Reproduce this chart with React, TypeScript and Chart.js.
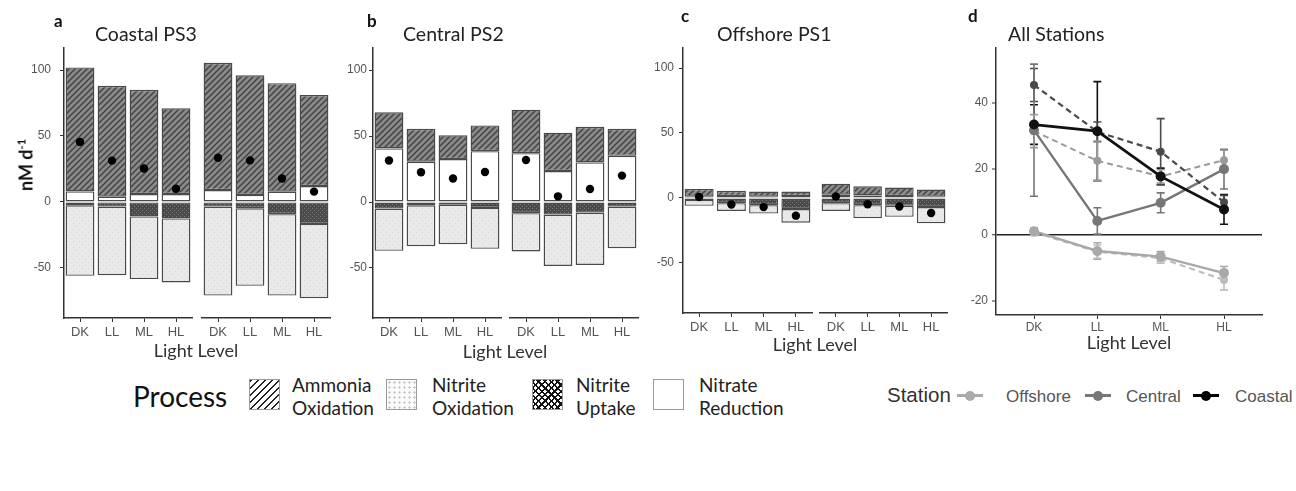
import React, { useEffect, useRef } from 'react';
import { Chart, registerables } from 'chart.js';

Chart.register(...registerables);
Chart.defaults.font.family = "'Liberation Sans', Arial, sans-serif";

// ---------- data ----------
const LIGHT_LEVELS = ['DK', 'LL', 'ML', 'HL'];
const BAR_Y_TICKS = [-50, 0, 50, 100];
const LINE_Y_TICKS = [-20, 0, 20, 40];

// Panel a – Coastal PS3 (facet 1 / facet 2)
const COASTAL_F1_AO = [94, 84, 79, 65];
const COASTAL_F1_NR = [8, 4, 6, 6];
const COASTAL_F1_NU = [-2.5, -3.5, -11, -12.5];
const COASTAL_F1_NO = [-53.5, -52, -47.5, -48.5];
const COASTAL_F1_NET = [45.5, 31.3, 25.3, 10];
const COASTAL_F2_AO = [96.5, 90.7, 82.2, 69];
const COASTAL_F2_NR = [9, 5.3, 7.8, 12];
const COASTAL_F2_NU = [-3.5, -4.8, -9.3, -16.7];
const COASTAL_F2_NO = [-67.5, -58.8, -61.7, -56.3];
const COASTAL_F2_NET = [33.5, 31.5, 17.8, 7.8];

// Panel b – Central PS2
const CENTRAL_F1_AO = [27.4, 25, 18, 19.5];
const CENTRAL_F1_NR = [40.6, 30.5, 32.5, 38.5];
const CENTRAL_F1_NU = [-5, -2.5, -2, -4.5];
const CENTRAL_F1_NO = [-32, -31, -30, -31];
const CENTRAL_F1_NET = [31.5, 22.5, 17.8, 22.7];
const CENTRAL_F2_AO = [33, 29, 27, 20.5];
const CENTRAL_F2_NR = [37, 23.5, 30, 35];
const CENTRAL_F2_NU = [-8.5, -9.5, -8, -3.5];
const CENTRAL_F2_NO = [-29, -39, -39.7, -31.5];
const CENTRAL_F2_NET = [31.8, 4.3, 9.8, 20];

// Panel c – Offshore PS1
const OFFSHORE_F1_AO = [6, 4, 4, 3.5];
const OFFSHORE_F1_NR = [1, 1.5, 1, 1.5];
const OFFSHORE_F1_NU = [-1.5, -4, -5.5, -8.5];
const OFFSHORE_F1_NO = [-4.5, -6, -6.5, -10.5];
const OFFSHORE_F1_NET = [0.8, -5, -7, -13.6];
const OFFSHORE_F2_AO = [8.5, 7, 6.5, 5.5];
const OFFSHORE_F2_NR = [2.5, 2, 1.5, 1];
const OFFSHORE_F2_NU = [-4, -5.5, -6, -7];
const OFFSHORE_F2_NO = [-6, -10, -8.5, -12.5];
const OFFSHORE_F2_NET = [1.2, -4.8, -6.5, -11.5];

// Panel d – error bar half-widths
const OFFSHORE_F1_ERR = [1, 2, 1.5, 3];
const OFFSHORE_F2_ERR = [1, 2.5, 1.5, 2];
const CENTRAL_F1_ERR = [5, 6, 2, 3];
const CENTRAL_F2_ERR = [20, 4, 3, 6];
const COASTAL_F1_ERR = [5, 3, 10, 2];
const COASTAL_F2_ERR = [6, 15, 2.5, 4.5];

type Facet = { ao: number[]; nr: number[]; nu: number[]; no: number[]; net: number[] };

const COASTAL: Facet[] = [
  { ao: COASTAL_F1_AO, nr: COASTAL_F1_NR, nu: COASTAL_F1_NU, no: COASTAL_F1_NO, net: COASTAL_F1_NET },
  { ao: COASTAL_F2_AO, nr: COASTAL_F2_NR, nu: COASTAL_F2_NU, no: COASTAL_F2_NO, net: COASTAL_F2_NET },
];
const CENTRAL: Facet[] = [
  { ao: CENTRAL_F1_AO, nr: CENTRAL_F1_NR, nu: CENTRAL_F1_NU, no: CENTRAL_F1_NO, net: CENTRAL_F1_NET },
  { ao: CENTRAL_F2_AO, nr: CENTRAL_F2_NR, nu: CENTRAL_F2_NU, no: CENTRAL_F2_NO, net: CENTRAL_F2_NET },
];
const OFFSHORE: Facet[] = [
  { ao: OFFSHORE_F1_AO, nr: OFFSHORE_F1_NR, nu: OFFSHORE_F1_NU, no: OFFSHORE_F1_NO, net: OFFSHORE_F1_NET },
  { ao: OFFSHORE_F2_AO, nr: OFFSHORE_F2_NR, nu: OFFSHORE_F2_NU, no: OFFSHORE_F2_NO, net: OFFSHORE_F2_NET },
];

// ---------- patterns ----------
function makePatterns(ctx: CanvasRenderingContext2D) {
  const tile = (s: number, draw: (g: CanvasRenderingContext2D, s: number) => void) => {
    const c = document.createElement('canvas');
    c.width = s;
    c.height = s;
    const g = c.getContext('2d')!;
    draw(g, s);
    return ctx.createPattern(c, 'repeat')!;
  };
  const hatch = tile(6, (g, s) => {
    g.fillStyle = '#8a8a8a';
    g.fillRect(0, 0, s, s);
    g.strokeStyle = '#444444';
    g.lineWidth = 1.5;
    g.beginPath();
    g.moveTo(0, s); g.lineTo(s, 0);
    g.moveTo(-s, s); g.lineTo(s, -s);
    g.moveTo(0, 2 * s); g.lineTo(2 * s, 0);
    g.stroke();
  });
  const cross = tile(4, (g, s) => {
    g.fillStyle = '#4a4a4a';
    g.fillRect(0, 0, s, s);
    g.fillStyle = '#7c7c7c';
    g.fillRect(0, 0, 1, 1);
    g.fillRect(2, 2, 1, 1);
  });
  const dots = tile(6, (g, s) => {
    g.fillStyle = '#e9e9e9';
    g.fillRect(0, 0, s, s);
    g.fillStyle = '#d6d6d6';
    g.fillRect(1, 1, 1, 1);
    g.fillRect(4, 4, 1, 1);
  });
  return { hatch, cross, dots };
}

// ---------- process panel ----------
type PanelProps = {
  facets: Facet[];
  left: number; top: number; width: number; height: number;
  yWidth: number; yPad: number; padRight: number; padTop: number; xHeight: number;
  weights: number[]; min: number; max: number;
};

function ProcessPanel(p: PanelProps) {
  const ref = useRef<HTMLCanvasElement>(null);
  useEffect(() => {
    const canvas = ref.current!;
    const ctx = canvas.getContext('2d')!;
    const pats = makePatterns(ctx);
    const datasets: any[] = [];
    p.facets.forEach((f, i) => {
      const xAxisID = i === 0 ? 'x1' : 'x2';
      datasets.push({
        type: 'line', label: 'Net', data: f.net, xAxisID, yAxisID: 'y', stack: 'net',
        showLine: false, pointRadius: 4.2, pointHoverRadius: 4.2,
        pointBackgroundColor: '#000', pointBorderColor: '#000', pointBorderWidth: 0, order: -1,
      });
      const seg = (label: string, data: number[], bg: any) => ({
        type: 'bar', label, data, xAxisID, yAxisID: 'y', stack: 'proc', grouped: false,
        backgroundColor: bg, borderColor: '#4a4a4a', borderWidth: 1.4, borderSkipped: false,
        categoryPercentage: 1, barPercentage: 0.9,
      });
      datasets.push(seg('Nitrate Reduction', f.nr, '#ffffff'));
      datasets.push(seg('Ammonia Oxidation', f.ao, pats.hatch));
      datasets.push(seg('Nitrite Uptake', f.nu, pats.cross));
      datasets.push(seg('Nitrite Oxidation', f.no, pats.dots));
    });
    const catAxis = (w: number) => ({
      type: 'category', position: 'bottom', labels: LIGHT_LEVELS, stack: 'facet', stackWeight: w, offset: true,
      grid: { display: true, drawOnChartArea: false, drawTicks: true, tickLength: 4, color: '#333', offset: false },
      border: { display: true, color: '#333', width: 1.5 },
      ticks: { color: '#555', font: { size: 13 }, padding: 3, autoSkip: false, maxRotation: 0 },
      afterFit: (s: any) => { s.height = p.xHeight; },
    });
    const chart = new Chart(canvas, {
      type: 'bar',
      data: { labels: LIGHT_LEVELS, datasets },
      options: {
        animation: false, responsive: false, events: [],
        layout: { padding: { left: 0, right: p.padRight, top: p.padTop, bottom: 0 } },
        plugins: { legend: { display: false }, tooltip: { enabled: false }, title: { display: false } },
        scales: {
          y: {
            type: 'linear', position: 'left', min: p.min, max: p.max, stacked: true,
            afterBuildTicks: (s: any) => { s.ticks = BAR_Y_TICKS.map((v) => ({ value: v })); },
            afterFit: (s: any) => { s.width = p.yWidth; },
            grid: { display: true, drawOnChartArea: false, drawTicks: true, tickLength: 4, color: '#333' },
            border: { display: true, color: '#333', width: 1.5 },
            ticks: { color: '#555', font: { size: 12 }, padding: p.yPad },
          },
          x1: catAxis(p.weights[0]),
          xg: {
            type: 'category', position: 'bottom', labels: [''], stack: 'facet', stackWeight: p.weights[1],
            grid: { display: false }, border: { display: false }, ticks: { display: false },
            afterFit: (s: any) => { s.height = p.xHeight; },
          },
          x2: catAxis(p.weights[2]),
        } as any,
      },
    } as any);
    return () => chart.destroy();
  }, []);
  return (
    <canvas ref={ref} width={p.width} height={p.height}
      style={{ position: 'absolute', left: p.left, top: p.top, width: p.width, height: p.height }} />
  );
}

// ---------- all stations panel ----------
const errorBarPlugin = {
  id: 'errorBars',
  beforeDatasetsDraw(chart: any) {
    const { ctx } = chart;
    const yS = chart.scales.y;
    chart.data.datasets.forEach((ds: any, i: number) => {
      if (!ds.errors) return;
      const meta = chart.getDatasetMeta(i);
      ctx.save();
      ctx.strokeStyle = ds.borderColor;
      ctx.lineWidth = 1.6;
      ctx.setLineDash([]);
      meta.data.forEach((pt: any, j: number) => {
        const v = ds.data[j].y;
        const e = ds.errors[j];
        const x = pt.x;
        const y1 = yS.getPixelForValue(v + e);
        const y2 = yS.getPixelForValue(v - e);
        ctx.beginPath();
        ctx.moveTo(x, y1); ctx.lineTo(x, y2);
        ctx.moveTo(x - 4, y1); ctx.lineTo(x + 4, y1);
        ctx.moveTo(x - 4, y2); ctx.lineTo(x + 4, y2);
        ctx.stroke();
      });
      ctx.restore();
    });
  },
};

function StationsPanel() {
  const ref = useRef<HTMLCanvasElement>(null);
  useEffect(() => {
    const canvas = ref.current!;
    const series = (net: number[], err: number[], color: string, dashed: boolean, width: number, order: number) => ({
      type: 'line',
      data: net.map((y, i) => ({ x: i, y })),
      errors: err,
      borderColor: color, backgroundColor: color, borderWidth: width,
      borderDash: dashed ? [6, 4] : [],
      pointRadius: dashed ? 4 : 5, pointHoverRadius: 5, pointBorderWidth: 0,
      pointBackgroundColor: color, tension: 0, order,
    });
    const chart = new Chart(canvas, {
      type: 'line',
      data: {
        datasets: [
          series(COASTAL_F2_NET, COASTAL_F2_ERR, '#111111', false, 2.8, 0),
          series(COASTAL_F1_NET, COASTAL_F1_ERR, '#4a4a4a', true, 2.2, 1),
          series(CENTRAL_F2_NET, CENTRAL_F2_ERR, '#767676', false, 2.4, 2),
          series(CENTRAL_F1_NET, CENTRAL_F1_ERR, '#9a9a9a', true, 2, 3),
          series(OFFSHORE_F2_NET, OFFSHORE_F2_ERR, '#a8a8a8', false, 2.4, 4),
          series(OFFSHORE_F1_NET, OFFSHORE_F1_ERR, '#bdbdbd', true, 2, 5),
        ] as any,
      },
      options: {
        animation: false, responsive: false, events: [],
        layout: { padding: { left: 0, right: 34, top: 48, bottom: 0 } },
        plugins: { legend: { display: false }, tooltip: { enabled: false } },
        scales: {
          x: {
            type: 'linear', min: -0.6, max: 3.6,
            afterBuildTicks: (s: any) => { s.ticks = LIGHT_LEVELS.map((_, i) => ({ value: i })); },
            afterFit: (s: any) => { s.height = 27; },
            grid: { display: true, drawOnChartArea: false, drawTicks: true, tickLength: 4, color: '#333' },
            border: { display: true, color: '#333', width: 1.5 },
            ticks: { color: '#555', font: { size: 12 }, padding: 1, autoSkip: false, maxRotation: 0,
              callback: (v: any) => LIGHT_LEVELS[v] },
          },
          y: {
            type: 'linear', min: -24.2, max: 56.7,
            afterBuildTicks: (s: any) => { s.ticks = LINE_Y_TICKS.map((v) => ({ value: v })); },
            afterFit: (s: any) => { s.width = 36; },
            grid: {
              display: true, drawOnChartArea: true, drawTicks: true, tickLength: 4,
              color: (c: any) => (c.tick && c.tick.value === 0 ? '#222' : 'rgba(0,0,0,0)'),
              lineWidth: (c: any) => (c.tick && c.tick.value === 0 ? 1.5 : 0),
              tickColor: '#333', tickWidth: 1,
            },
            border: { display: true, color: '#333', width: 1.5 },
            ticks: { color: '#555', font: { size: 12 }, padding: 4 },
          },
        } as any,
      },
      plugins: [errorBarPlugin],
    } as any);
    return () => chart.destroy();
  }, []);
  return (
    <canvas ref={ref} width={336} height={342}
      style={{ position: 'absolute', left: 960, top: 0, width: 336, height: 342 }} />
  );
}

// ---------- text helpers ----------
const LATO = "Lato, 'Open Sans', sans-serif";
const ARIAL = "'Liberation Sans', Arial, sans-serif";

function T(props: { x: number; y: number; size: number; children: any; bold?: boolean; color?: string; center?: boolean; family?: string }) {
  return (
    <div style={{
      position: 'absolute', left: props.x, top: props.y, whiteSpace: 'nowrap', lineHeight: 1,
      fontSize: props.size, fontWeight: props.bold ? 700 : 400, color: props.color || '#222',
      fontFamily: props.family || LATO,
      transform: props.center ? 'translate(-50%, -50%)' : 'translateY(-50%)',
    }}>{props.children}</div>
  );
}

function Swatch(props: { x: number; bg: string }) {
  return (
    <div style={{
      position: 'absolute', left: props.x, top: 379, width: 31, height: 31, boxSizing: 'border-box',
      border: '1px solid #9a9a9a', background: props.bg,
    }} />
  );
}

function LegendLabel(props: { x: number; lines: string[] }) {
  return (
    <div style={{ position: 'absolute', left: props.x, top: 373, fontFamily: LATO, fontSize: 19, lineHeight: '23px', color: '#222', whiteSpace: 'nowrap' }}>
      {props.lines.map((l) => <div key={l}>{l}</div>)}
    </div>
  );
}

function StationKey(props: { x: number; color: string; label: string; textX: number }) {
  return (
    <>
      <div style={{ position: 'absolute', left: props.x, top: 394, width: 26, height: 3, background: props.color }} />
      <div style={{ position: 'absolute', left: props.x + 13 - 5, top: 390.5, width: 10, height: 10, borderRadius: 5, background: props.color }} />
      <T x={props.textX} y={396} size={17} family={ARIAL} color="#555">{props.label}</T>
    </>
  );
}

export default function App() {
  return (
    <div style={{ position: 'absolute', left: 0, top: 0, width: 1296, height: 491, background: '#fff', overflow: 'hidden' }}>
      <ProcessPanel facets={COASTAL} left={0} top={0} width={340} height={345}
        yWidth={64} yPad={9} padRight={10} padTop={48} xHeight={27} weights={[128, 10, 128]} min={-88} max={116.7} />
      <ProcessPanel facets={CENTRAL} left={340} top={0} width={310} height={345}
        yWidth={33} yPad={2} padRight={12} padTop={48} xHeight={27} weights={[128, 9, 128]} min={-87.9} max={116.7} />
      <ProcessPanel facets={OFFSHORE} left={650} top={0} width={310} height={340}
        yWidth={33} yPad={5} padRight={13} padTop={48} xHeight={27} weights={[129, 8, 127]} min={-88.5} max={115.4} />
      <StationsPanel />

      <T x={54} y={20} size={17} bold color="#111">a</T>
      <T x={95} y={34} size={19.5}>Coastal PS3</T>
      <T x={367} y={20} size={17} bold color="#111">b</T>
      <T x={403} y={34} size={19.5}>Central PS2</T>
      <T x={681} y={15} size={17} bold color="#111">c</T>
      <T x={717} y={34} size={19.5}>Offshore PS1</T>
      <T x={968} y={15} size={17} bold color="#111">d</T>
      <T x={1008} y={34} size={19.5}>All Stations</T>

      <div style={{
        position: 'absolute', left: 25, top: 165, transform: 'translate(-50%, -50%) rotate(-90deg)',
        whiteSpace: 'nowrap', fontFamily: LATO, fontWeight: 700, fontSize: 18, color: '#111', lineHeight: 1,
      }}>nM d<sup style={{ fontSize: 11 }}>-1</sup></div>

      <T x={196} y={350} size={18} center color="#333">Light Level</T>
      <T x={505} y={351} size={18} center color="#333">Light Level</T>
      <T x={815} y={344} size={18} center color="#333">Light Level</T>
      <T x={1129} y={342} size={18} center color="#333">Light Level</T>

      <T x={133} y={396} size={28} color="#111">Process</T>
      <Swatch x={249} bg="repeating-linear-gradient(135deg, #222 0 1.5px, #fff 1.5px 5px)" />
      <LegendLabel x={292} lines={['Ammonia', 'Oxidation']} />
      <Swatch x={386} bg="radial-gradient(circle, #c4c4c4 0.9px, #fafafa 1.3px) 0 0 / 5px 5px" />
      <LegendLabel x={432} lines={['Nitrite', 'Oxidation']} />
      <Swatch x={532} bg="repeating-linear-gradient(45deg, #111 0 1.6px, transparent 1.6px 4.5px), repeating-linear-gradient(135deg, #111 0 1.6px, #fff 1.6px 4.5px)" />
      <LegendLabel x={576} lines={['Nitrite', 'Uptake']} />
      <Swatch x={653} bg="#fff" />
      <LegendLabel x={699} lines={['Nitrate', 'Reduction']} />

      <T x={887} y={395} size={20.5} family={ARIAL} color="#333">Station</T>
      <StationKey x={957} color="#aaaaaa" label="Offshore" textX={1006} />
      <StationKey x={1085} color="#777777" label="Central" textX={1126} />
      <StationKey x={1193} color="#000000" label="Coastal" textX={1235} />
    </div>
  );
}
